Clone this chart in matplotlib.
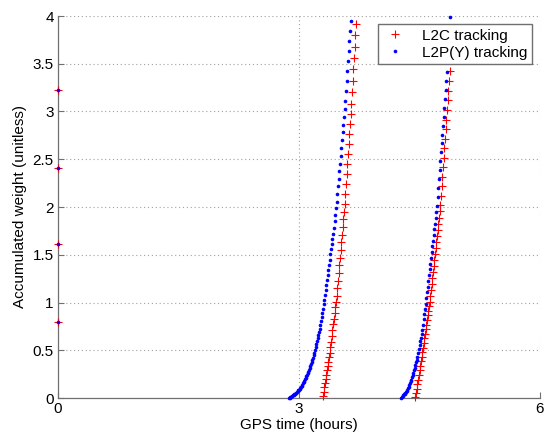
import matplotlib
matplotlib.use("Agg")
import matplotlib.pyplot as plt

plt.rcParams['font.family'] = ['Liberation Sans', 'DejaVu Sans']

# ---- data (GPS time in hours, accumulated weight) ----
# points at the start (x = 0)
start_x = [0.0, 0.0, 0.0, 0.0]
start_y = [0.80, 1.61, 2.41, 3.22]

# first pass, L2P(Y)
b1_x = [2.875, 2.883, 2.892,
        2.900, 2.908, 2.917, 2.925, 2.933, 2.942, 2.950, 2.958, 2.967, 2.975, 2.983, 2.992,
        3.000, 3.008, 3.017, 3.025, 3.033, 3.042, 3.050, 3.058, 3.067, 3.075, 3.083, 3.092,
        3.100, 3.108, 3.117, 3.125, 3.133, 3.142, 3.150, 3.158, 3.167, 3.175, 3.183, 3.192,
        3.200, 3.208, 3.217, 3.225, 3.233, 3.242, 3.250, 3.258, 3.267, 3.275, 3.283, 3.292,
        3.300, 3.308, 3.317, 3.325, 3.333, 3.342, 3.350, 3.358, 3.367, 3.375, 3.383, 3.392,
        3.400, 3.408, 3.417, 3.425, 3.433, 3.442, 3.450, 3.458, 3.467, 3.475, 3.483, 3.492,
        3.500, 3.508, 3.517, 3.525, 3.533, 3.542, 3.550, 3.558, 3.567, 3.575, 3.583, 3.592,
        3.600, 3.608, 3.617, 3.625, 3.633, 3.642]
b1_y = [0.000, 0.005, 0.010, 0.015, 0.020, 0.025, 0.030, 0.035, 0.040, 0.045, 0.050, 0.055,
        0.063, 0.071, 0.079, 0.087, 0.095, 0.103, 0.111,
        0.125, 0.139, 0.153, 0.167, 0.181,
        0.197, 0.213, 0.229, 0.245, 0.261, 0.277, 0.293, 0.309,
        0.331, 0.353, 0.375, 0.397, 0.419,
        0.447, 0.475, 0.503, 0.531,
        0.562, 0.593, 0.624, 0.655, 0.686,
        0.726, 0.766, 0.806, 0.846,
        0.891, 0.936, 0.981, 1.026,
        1.079, 1.132, 1.185, 1.238, 1.291, 1.344, 1.397, 1.450, 1.503, 1.556, 1.609, 1.662, 1.715,
        1.783, 1.851, 1.919, 1.987, 2.055,
        2.135, 2.215, 2.295, 2.375, 2.455, 2.535,
        2.617, 2.699, 2.781, 2.863, 2.945, 3.027, 3.109,
        3.214, 3.319, 3.424, 3.529, 3.634, 3.739, 3.844, 3.949]

# first pass, L2C
r1_x = [3.300, 3.308, 3.317, 3.325, 3.333, 3.342, 3.350, 3.358, 3.367, 3.375, 3.383, 3.392,
        3.400, 3.408, 3.417, 3.425, 3.433, 3.442, 3.450, 3.458, 3.467, 3.475, 3.483, 3.492,
        3.500, 3.508, 3.517, 3.525, 3.533, 3.542, 3.550, 3.558, 3.567, 3.575, 3.583, 3.592,
        3.600, 3.608, 3.617, 3.625, 3.633, 3.642, 3.650, 3.658, 3.667, 3.675, 3.683, 3.692,
        3.700, 3.708]
r1_y = [0.02,
        0.065, 0.11, 0.155, 0.20, 0.245, 0.29, 0.335, 0.38, 0.425, 0.47,
        0.53, 0.59, 0.65, 0.71, 0.77, 0.83, 0.89, 0.95, 1.01, 1.07,
        1.15, 1.23, 1.31, 1.39, 1.47, 1.55, 1.63, 1.71, 1.79, 1.87, 1.95, 2.03,
        2.135, 2.24, 2.345, 2.45, 2.555, 2.66, 2.765, 2.87, 2.975, 3.08,
        3.20, 3.32, 3.44, 3.56, 3.68, 3.80, 3.92]

# second pass, L2P(Y)
b2_x = [4.275, 4.283, 4.292,
        4.300, 4.308, 4.317, 4.325, 4.333, 4.342, 4.350, 4.358, 4.367, 4.375, 4.383, 4.392,
        4.400, 4.408, 4.417, 4.425, 4.433, 4.442, 4.450, 4.458, 4.467, 4.475, 4.483, 4.492,
        4.500, 4.508, 4.517, 4.525, 4.533, 4.542, 4.550, 4.558, 4.567, 4.575, 4.583, 4.592,
        4.600, 4.608, 4.617, 4.625, 4.633, 4.642, 4.650, 4.658, 4.667, 4.675, 4.683, 4.692,
        4.700, 4.708, 4.717, 4.725, 4.733, 4.742, 4.750, 4.758, 4.767, 4.775, 4.783, 4.792,
        4.800, 4.808, 4.817, 4.825, 4.833, 4.842, 4.850, 4.858, 4.867, 4.875, 4.883]
b2_y = [0.000,
        0.009, 0.019, 0.028, 0.037, 0.047, 0.056, 0.065, 0.074, 0.084,
        0.102, 0.120, 0.138, 0.156, 0.174, 0.192,
        0.216, 0.240, 0.264, 0.288, 0.312,
        0.342, 0.372, 0.402, 0.432,
        0.472, 0.512, 0.552, 0.592, 0.632, 0.672, 0.712,
        0.767, 0.822, 0.877, 0.932, 0.987,
        1.047, 1.107, 1.167, 1.227, 1.287, 1.347, 1.407, 1.467, 1.527, 1.587, 1.647, 1.707,
        1.767, 1.827, 1.887, 1.947, 2.007,
        2.101, 2.195, 2.289, 2.383, 2.477, 2.571, 2.665, 2.759, 2.853, 2.947, 3.041, 3.135,
        3.229, 3.323, 3.417,
        3.532, 3.647, 3.762, 3.877, 3.992]

# second pass, L2C
r2_x = [4.450, 4.458, 4.467, 4.475, 4.483, 4.492,
        4.500, 4.508, 4.517, 4.525, 4.533, 4.542, 4.550, 4.558, 4.567, 4.575, 4.583, 4.592,
        4.600, 4.608, 4.617, 4.625, 4.633, 4.642, 4.650, 4.658, 4.667, 4.675, 4.683, 4.692,
        4.700, 4.708, 4.717, 4.725, 4.733, 4.742, 4.750, 4.758, 4.767, 4.775, 4.783, 4.792,
        4.800, 4.808, 4.817, 4.825, 4.833, 4.842, 4.850, 4.858, 4.867, 4.875, 4.883, 4.892,
        4.900, 4.908]
r2_y = [0.01,
        0.048, 0.096, 0.144, 0.192, 0.240, 0.288, 0.336, 0.384, 0.432, 0.480, 0.528,
        0.576, 0.624, 0.672, 0.720, 0.768, 0.816, 0.864, 0.912, 0.960, 1.008,
        1.071, 1.134, 1.197, 1.260, 1.323, 1.386, 1.449, 1.512, 1.575, 1.638, 1.701,
        1.764, 1.827, 1.890, 1.953, 2.016,
        2.116, 2.216, 2.316, 2.416, 2.516, 2.616, 2.716, 2.816, 2.916, 3.016, 3.116,
        3.216, 3.316,
        3.426, 3.536, 3.646, 3.756, 3.866]

x_ticks = [0, 3, 6]
x_tick_labels = ['0', '3', '6']
y_ticks = [0, 0.5, 1, 1.5, 2, 2.5, 3, 3.5, 4]
y_tick_labels = ['0', '0.5', '1', '1.5', '2', '2.5', '3', '3.5', '4']

series_labels = ['L2C tracking', 'L2P(Y) tracking']

# ---- figure ----
fig = plt.figure(figsize=(5.51, 4.36), dpi=100)
ax = fig.add_axes([58 / 551, 38 / 436, 482 / 551, 382 / 436])

red_x = start_x + r1_x + r2_x
red_y = start_y + r1_y + r2_y
blue_x = start_x + b1_x + b2_x
blue_y = start_y + b1_y + b2_y

ax.plot(red_x, red_y, linestyle='none', marker='+', color='#ff0000',
        markersize=6, markeredgewidth=0.8, clip_on=False, label=series_labels[0], zorder=3)
ax.plot(blue_x, blue_y, linestyle='none', marker='o', color='#0000ff',
        markersize=2.6, markeredgewidth=0, clip_on=False, label=series_labels[1], zorder=4)

ax.set_xlim(0, 6)
ax.set_ylim(0, 4)
ax.set_xticks(x_ticks)
ax.set_xticklabels(x_tick_labels)
ax.set_yticks(y_ticks)
ax.set_yticklabels(y_tick_labels)

ax.grid(True, linestyle=(0, (1, 2.5)), color='#a0a0a0', linewidth=0.8)
ax.set_axisbelow(True)
for s in ['top', 'right']:
    ax.spines[s].set_visible(False)
for s in ['left', 'bottom']:
    ax.spines[s].set_color('#707070')
    ax.spines[s].set_linewidth(0.9)
    ax.spines[s].set_zorder(2)
ax.tick_params(direction='in', length=4, width=0.8, color='#707070',
               labelsize=11, labelcolor='black', pad=3)

ax.set_xlabel('GPS time (hours)', fontsize=11, labelpad=1)
ax.set_ylabel('Accumulated weight (unitless)', fontsize=11, labelpad=4)

leg = ax.legend(loc='upper right', bbox_to_anchor=((532 - 58) / 482, (398 - 24) / 382),
                borderaxespad=0, fontsize=11, frameon=True, fancybox=False,
                framealpha=1, edgecolor='#707070', handlelength=1.6,
                handletextpad=1.0, borderpad=0.3, labelspacing=0.2, markerscale=1.0)
leg.get_frame().set_linewidth(1.0)
leg.set_zorder(10)

fig.savefig('out.png', dpi=100)
